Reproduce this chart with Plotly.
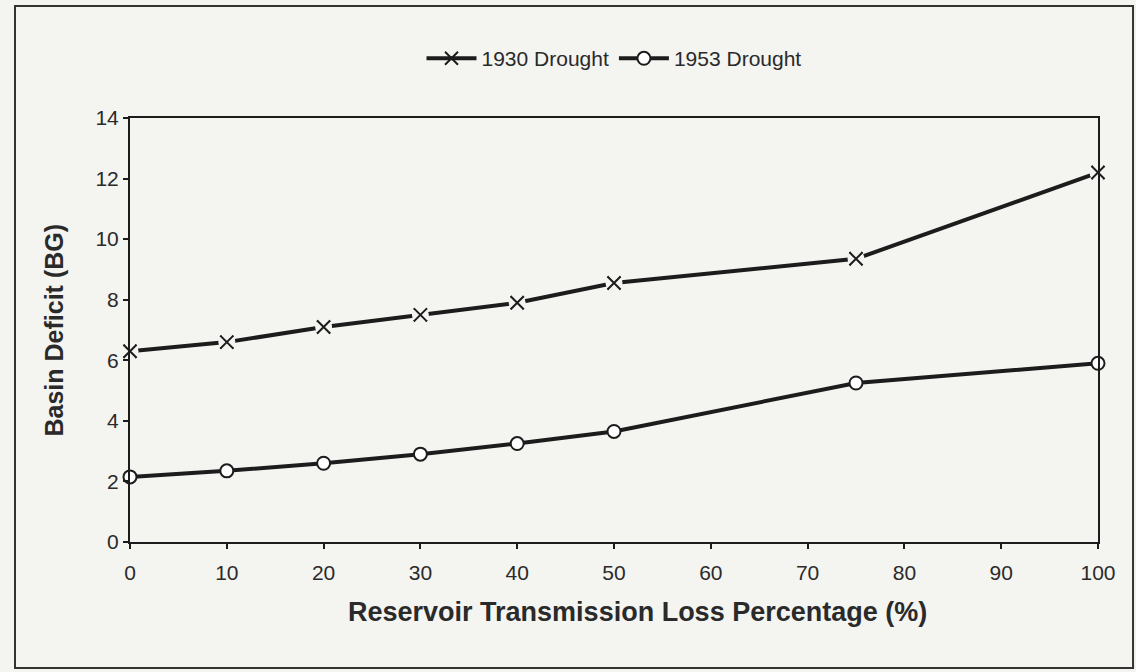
import plotly.graph_objects as go

loss_pct = [0, 10, 20, 30, 40, 50, 75, 100]
drought_1930 = [6.3, 6.6, 7.1, 7.5, 7.9, 8.55, 9.35, 12.2]
drought_1953 = [2.15, 2.35, 2.6, 2.9, 3.25, 3.65, 5.25, 5.9]
x_ticks = [0, 10, 20, 30, 40, 50, 60, 70, 80, 90, 100]
y_ticks = [0, 2, 4, 6, 8, 10, 12, 14]

INK = "#1c1c1c"
TXT = "#2a2a2a"
BG = "#f4f4f1"
FONT = "Liberation Sans, Arial"

fig = go.Figure()
fig.add_trace(go.Scatter(
    x=loss_pct, y=drought_1930, mode="lines+markers", name="1930 Drought",
    line=dict(color=INK, width=4), cliponaxis=False,
    marker=dict(symbol="x-thin-open", size=13, color=INK, line=dict(color=INK, width=2)),
))
fig.add_trace(go.Scatter(
    x=loss_pct, y=drought_1953, mode="lines+markers", name="1953 Drought",
    line=dict(color=INK, width=4), cliponaxis=False,
    marker=dict(symbol="circle", size=13, color="white", line=dict(color=INK, width=2)),
))
# white gaps around x markers
fig.add_trace(go.Scatter(
    x=loss_pct, y=drought_1930, mode="markers", showlegend=False, hoverinfo="skip",
    cliponaxis=False,
    marker=dict(symbol="circle", size=17, color=BG, line=dict(width=0)),
))
fig.add_trace(go.Scatter(
    x=loss_pct, y=drought_1930, mode="markers", showlegend=False, hoverinfo="skip",
    cliponaxis=False,
    marker=dict(symbol="x-thin-open", size=13, color=INK, line=dict(color=INK, width=2)),
))

axis_common = dict(
    showline=True, linecolor=INK, linewidth=2, mirror=True,
    ticks="outside", ticklen=5, tickwidth=1.5, tickcolor=INK,
    showgrid=False, zeroline=False,
    tickfont=dict(family=FONT, size=21, color=TXT),
)

fig.update_layout(
    width=1136, height=672,
    paper_bgcolor=BG, plot_bgcolor=BG,
    margin=dict(l=130, r=38, t=118, b=130),
    xaxis=dict(range=[0, 100], tickvals=x_ticks, ticklabelstandoff=6, **axis_common),
    yaxis=dict(range=[0, 14], tickvals=y_ticks, **axis_common),
    legend=dict(orientation="h", x=0.5, xanchor="center", y=1.14, yanchor="middle",
                bgcolor="rgba(0,0,0,0)", itemwidth=50,
                font=dict(family=FONT, size=21, color=TXT)),
    showlegend=True,
    annotations=[
        dict(text="<b>Reservoir Transmission Loss Percentage (%)</b>",
             xref="paper", yref="paper", x=0.524, y=-0.165,
             xanchor="center", yanchor="middle", showarrow=False,
             font=dict(family=FONT, size=27, color=TXT)),
        dict(text="<b>Basin Deficit (BG)</b>", textangle=-90,
             xref="paper", yref="paper", x=-0.078, y=0.5,
             xanchor="center", yanchor="middle", showarrow=False,
             font=dict(family=FONT, size=25, color=TXT)),
    ],
    shapes=[dict(type="rect", xref="paper", yref="paper",
                 x0=-0.1188, x1=1.0362, y0=-0.297, y1=1.264,
                 line=dict(color="#333", width=2))],
)

fig.write_html("out.html")
